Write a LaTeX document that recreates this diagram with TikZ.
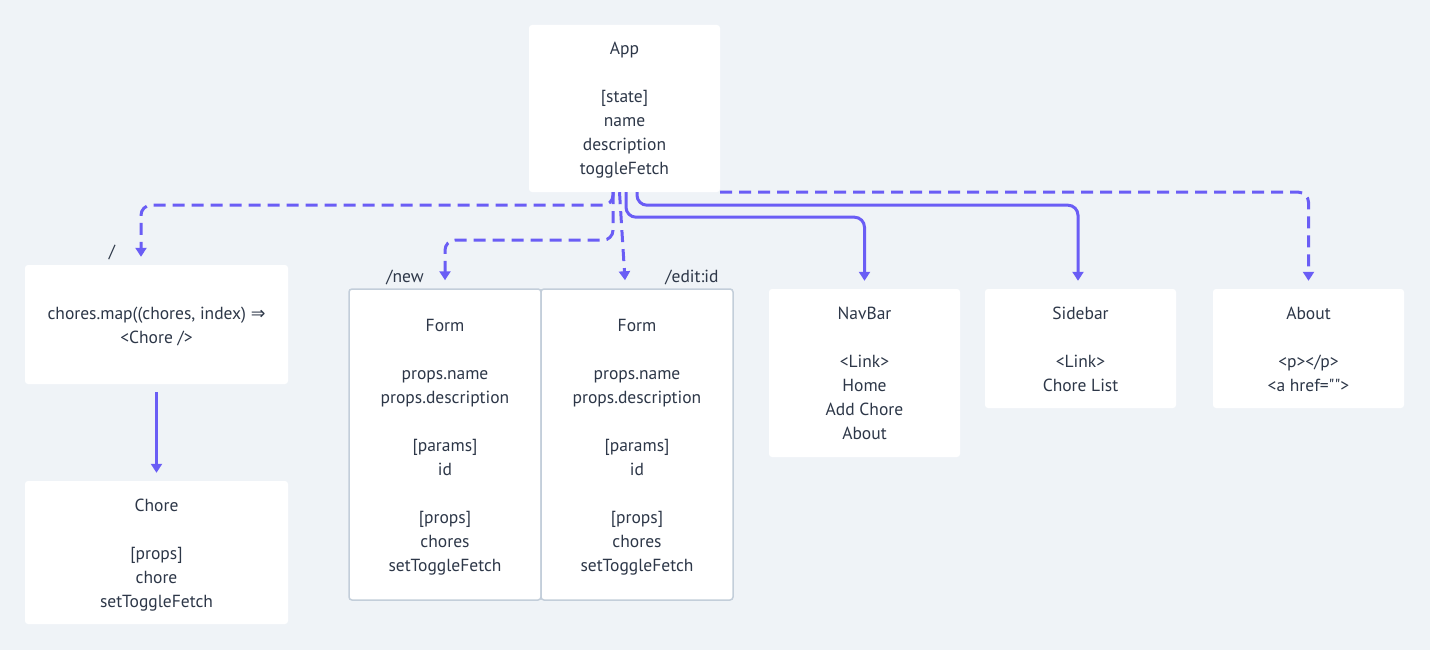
\documentclass[tikz,border=0pt]{standalone}
\usepackage{fontspec}
\setmainfont{PT Sans}[Ligatures=TeXOff]
\newfontfamily\symfont{DejaVu Sans}
\usetikzlibrary{arrows.meta}
\definecolor{bgc}{HTML}{EFF3F7}
\definecolor{linec}{HTML}{6A5DF5}
\definecolor{txtc}{HTML}{2D3748}
\definecolor{formb}{HTML}{C3CEDA}
\newcommand\cardstrut{\rule[-5.5pt]{0pt}{24pt}}
\tikzset{
  card/.style={fill=white, rounded corners=3pt, inner sep=0pt, align=center, text=txtc,
    font=\fontsize{17.5}{24}\selectfont},
  formcard/.style={card, draw=formb, line width=1.5pt},
  lbl/.style={text=txtc, inner sep=0pt, font=\fontsize{17.5}{24}\selectfont},
  solidline/.style={draw=linec, line width=3pt, rounded corners=10pt, -{Triangle[width=11pt,length=9pt]}},
  dashline/.style={solidline, dash pattern=on 12pt off 7pt},
}
\begin{document}
\begin{tikzpicture}[x=1pt,y=-1pt]
\fill[bgc] (0,0) rectangle (1430,650);
\useasboundingbox (0,0) rectangle (1430,650);

\node[card, minimum width=191pt, minimum height=167pt] (App) at (624.5,108.5)
  {\cardstrut App\\[24pt]{[state]}\\name\\description\\toggleFetch\cardstrut};
\node[card, minimum width=263pt, minimum height=119pt] (chores) at (156.5,324.5)
  {\cardstrut chores.map((chores, index) {\symfont ⇒}\\{<}Chore /{>}\cardstrut};
\node[card, minimum width=263pt, minimum height=143pt] (Chore) at (156.5,552.5)
  {\cardstrut Chore\\[24pt]{[props]}\\chore\\setToggleFetch\cardstrut};
\node[formcard, minimum width=192pt, minimum height=311pt] (Form1) at (445,444.5)
  {\cardstrut Form\\[24pt]props.name\\props.description\\[24pt]{[params]}\\id\\[24pt]{[props]}\\chores\\setToggleFetch\cardstrut};
\node[formcard, minimum width=192pt, minimum height=311pt] (Form2) at (637,444.5)
  {\cardstrut Form\\[24pt]props.name\\props.description\\[24pt]{[params]}\\id\\[24pt]{[props]}\\chores\\setToggleFetch\cardstrut};
\node[card, minimum width=191pt, minimum height=168pt] (NavBar) at (864.5,373)
  {\cardstrut NavBar\\[24pt]{<}Link{>}\\Home\\Add Chore\\About\cardstrut};
\node[card, minimum width=191pt, minimum height=119pt] (Sidebar) at (1080.5,348.5)
  {\cardstrut Sidebar\\[24pt]{<}Link{>}\\Chore List\cardstrut};
\node[card, minimum width=191pt, minimum height=119pt] (About) at (1308.5,348.5)
  {\cardstrut About\\[24pt]{<}p{>}{<}/p{>}\\{<}a href=""{>}\cardstrut};

\node[lbl] (lroot) at (112,252) {/};
\node[lbl] (lnew) at (405,277) {/new};
\node[lbl] (ledit) at (692,277) {/edit:id};

% connectors
\draw[dashline] ([xshift=-11.5pt]App.south) -- ++(0,13) -| ([xshift=-15.5pt,yshift=8pt]chores.north);
\draw[dashline] ([xshift=-11.5pt]App.south) -- ++(0,48) -| ([yshift=8pt]Form1.north);
\draw[dashline] ([xshift=-5pt]App.south) -- ([xshift=-12pt,yshift=8pt]Form2.north);
\draw[solidline] ([xshift=1.5pt]App.south) -- ++(0,25) -| ([yshift=8pt]NavBar.north);
\draw[solidline] ([xshift=12.5pt]App.south) -- ++(0,13) -| ([xshift=-2.5pt,yshift=8pt]Sidebar.north);
\draw[dashline] (App.south east) -| ([yshift=8pt]About.north);
\draw[solidline] ([yshift=-8pt]chores.south) -- ([yshift=8pt]Chore.north);
\end{tikzpicture}
\end{document}
